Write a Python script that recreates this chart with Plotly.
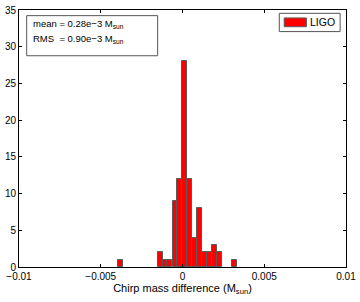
import plotly.graph_objects as go

# Histogram data (bin centers in M_sun, counts)
bin_centers = [-0.00380, -0.00137, -0.00107, -0.00077, -0.00046, -0.00016,
               0.00014, 0.00044, 0.00075, 0.00105, 0.00135, 0.00166,
               0.00196, 0.00226, 0.00317]
counts = [1, 2, 1, 1, 9, 12, 28, 12, 4, 8, 2, 2, 3, 2, 1]
bin_width = 0.000303

x_ticks = [-0.01, -0.005, 0, 0.005, 0.01]
x_tick_labels = ["\u22120.01", "\u22120.005", "0", "0.005", "0.01"]
y_ticks = [0, 5, 10, 15, 20, 25, 30, 35]

FONT = "Liberation Sans, Arial, Helvetica, sans-serif"

fig = go.Figure()
fig.add_trace(go.Bar(
    x=bin_centers, y=counts, width=bin_width, name="LIGO",
    marker=dict(color="#ff0000", line=dict(color="#5a5a5a", width=1)),
    showlegend=False,
))

fig.update_layout(
    width=360, height=302,
    margin=dict(l=19, r=14, t=10, b=35),
    paper_bgcolor="white", plot_bgcolor="white",
    font=dict(family=FONT, size=10, color="black"),
    bargap=0,
    xaxis=dict(
        range=[-0.01, 0.01], tickvals=x_ticks, ticktext=x_tick_labels,
        ticks="inside", ticklen=3, tickcolor="black",
        showline=True, linecolor="black", linewidth=1, mirror="ticks",
        showgrid=False, zeroline=False, automargin=False,
        tickfont=dict(size=10),
        title=dict(text="Chirp mass difference (M<sub>sun</sub>)",
                   font=dict(size=11), standoff=2),
    ),
    yaxis=dict(
        range=[0, 35], tickvals=y_ticks,
        ticks="inside", ticklen=3, tickcolor="black",
        showline=True, linecolor="black", linewidth=1, mirror="ticks",
        showgrid=False, zeroline=False, automargin=False,
        tickfont=dict(size=10),
    ),
)

# Stats box
fig.add_shape(type="rect", xref="paper", yref="paper",
              x0=0.0235, x1=0.424, y0=0.822, y1=0.978,
              line=dict(color="#555555", width=1), fillcolor="white")
fig.add_annotation(xref="paper", yref="paper", x=0.036, y=0.946,
                   xanchor="left", yanchor="middle", showarrow=False,
                   text="mean = 0.28e\u22123 M<sub>sun</sub>",
                   font=dict(size=9.5))
fig.add_annotation(xref="paper", yref="paper", x=0.036, y=0.888,
                   xanchor="left", yanchor="middle", showarrow=False,
                   text="RMS \u00a0= 0.90e\u22123 M<sub>sun</sub>",
                   font=dict(size=9.5))

# Legend box
fig.add_shape(type="rect", xref="paper", yref="paper",
              x0=0.796, x1=0.982, y0=0.916, y1=0.987,
              line=dict(color="#555555", width=1), fillcolor="white")
fig.add_shape(type="rect", xref="paper", yref="paper",
              x0=0.811, x1=0.879, y0=0.935, y1=0.969,
              line=dict(color="#5a5a5a", width=1), fillcolor="#ff0000")
fig.add_annotation(xref="paper", yref="paper", x=0.884, y=0.953,
                   xanchor="left", yanchor="middle", showarrow=False,
                   text="LIGO", font=dict(size=10.5))

fig.write_html("out.html",
               config={"displayModeBar": False},
               post_script="document.body.style.margin='0';document.body.style.overflow='hidden';")
